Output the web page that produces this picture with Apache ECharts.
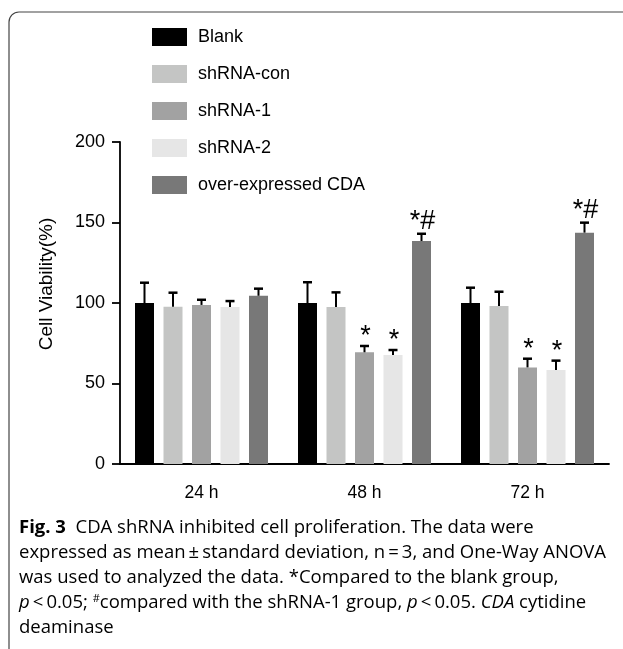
<!DOCTYPE html>
<html>
<head>
<meta charset="utf-8">
<script src="https://cdn.jsdelivr.net/npm/echarts@6/dist/echarts.min.js"></script>
<style>
html,body{margin:0;padding:0;background:#fff;}
#chart{width:623px;height:649px;}
</style>
</head>
<body>
<div id="chart"></div>
<script>
// ---- data ----
const categories = ['24 h', '48 h', '72 h'];
const seriesNames = ['Blank', 'shRNA-con', 'shRNA-1', 'shRNA-2', 'over-expressed CDA'];
const blankMean = [100, 100, 100];
const blankSD = [12.6, 12.9, 9.5];
const conMean = [97.7, 97.5, 98.1];
const conSD = [8.7, 9.1, 8.9];
const sh1Mean = [98.8, 69.4, 60.0];
const sh1SD = [3.2, 3.9, 5.4];
const sh2Mean = [97.5, 67.7, 58.4];
const sh2SD = [3.7, 3.1, 5.8];
const overMean = [104.5, 138.5, 143.7];
const overSD = [4.4, 4.5, 6.2];
const blankNote = ['', '', ''];
const conNote = ['', '', ''];
const sh1Note = ['', '*', '*'];
const sh2Note = ['', '*', '*'];
const overNote = ['', '*#', '*#'];
const yTicks = [0, 50, 100, 150, 200];

// ---- styles ----
const colors = ['#000000', '#c4c5c4', '#a2a2a2', '#e6e6e6', '#787878'];
const BAR_W = 19;
const BAR_GAP = 9.5;
const FONT = 'Liberation Sans';
const CAP_FONT = 'Open Sans';

const means = [blankMean, conMean, sh1Mean, sh2Mean, overMean];
const sds = [blankSD, conSD, sh1SD, sh2SD, overSD];
const notes = [blankNote, conNote, sh1Note, sh2Note, overNote];

const chart = echarts.init(document.getElementById('chart'), null, {renderer: 'canvas'});

const series = [];
seriesNames.forEach((name, k) => {
  series.push({
    name: name,
    type: 'bar',
    data: means[k],
    barWidth: BAR_W,
    barGap: (BAR_GAP / BAR_W * 100) + '%',
    itemStyle: {color: colors[k]},
    silent: true
  });
});
seriesNames.forEach((name, k) => {
  series.push({
    name: name + ' SD',
    type: 'custom',
    silent: true,
    z: 5,
    encode: {x: 0, y: [1, 2]},
    data: categories.map((c, i) => [i, means[k][i], means[k][i] + sds[k][i]]),
    renderItem: function (params, api) {
      const ci = api.value(0);
      const m = api.value(1);
      const t = api.value(2);
      const b = api.coord([ci, m]);
      const tp = api.coord([ci, t]);
      const x = b[0] + (k - 2) * (BAR_W + BAR_GAP);
      const note = notes[k][params.dataIndex];
      const children = [
        {type: 'line', shape: {x1: x, y1: b[1], x2: x, y2: tp[1]}, style: {stroke: '#000', lineWidth: 2}},
        {type: 'line', shape: {x1: x - 4.5, y1: tp[1], x2: x + 4.5, y2: tp[1]}, style: {stroke: '#000', lineWidth: 2.5}}
      ];
      if (note) {
        children.push({
          type: 'text',
          style: {
            text: note, x: x + 1, y: tp[1] + (note.length > 1 ? 1 : 4),
            align: 'center', verticalAlign: 'bottom',
            fontSize: 27, fontFamily: FONT, fill: '#000'
          }
        });
      }
      return {type: 'group', children: children};
    }
  });
});

const capLines = [
  {y: 531, text: '{b|Fig. 3}{n|  CDA shRNA inhibited cell proliferation. The data were}'},
  {y: 556, text: '{n|expressed as mean\u2009\u00b1\u2009standard deviation, n\u2009=\u20093, and One-Way ANOVA}'},
  {y: 581, text: '{n|was used to analyzed the data. *Compared to the blank group,}'},
  {y: 606, text: '{i|p}{n|\u2009<\u20090.05; }{s|#}{n|compared with the shRNA-1 group, }{i|p}{n|\u2009<\u20090.05. }{i|CDA}{n| cytidine}'},
  {y: 631, text: '{n|deaminase}'}
];
const CAP_SIZE = 18.5;
const capRich = {
  b: {fontFamily: CAP_FONT, fontSize: CAP_SIZE, fontWeight: 'bold', color: '#231f20'},
  n: {fontFamily: CAP_FONT, fontSize: CAP_SIZE, color: '#231f20'},
  i: {fontFamily: CAP_FONT, fontSize: CAP_SIZE, fontStyle: 'italic', color: '#231f20'},
  s: {fontFamily: CAP_FONT, fontSize: 11, color: '#231f20', verticalAlign: 'top', padding: [0, 0, 8, 0]}
};

const graphics = [
  {type: 'rect', shape: {x: 9, y: 12, width: 800, height: 800, r: 10}, style: {fill: 'none', stroke: '#444', lineWidth: 1.2}, silent: true, z: -1}
];
capLines.forEach(l => {
  graphics.push({
    type: 'text', left: 19, top: l.y - 13, silent: true,
    style: {text: l.text, rich: capRich}
  });
});

chart.setOption({
  animation: false,
  backgroundColor: '#fff',
  textStyle: {fontFamily: FONT},
  legend: {
    data: seriesNames,
    orient: 'vertical',
    left: 152, top: 28,
    padding: 0,
    icon: 'rect',
    itemWidth: 35, itemHeight: 18, itemGap: 19,
    textStyle: {fontSize: 18, color: '#000', fontFamily: FONT, padding: [0, 0, 0, 6]},
    selectedMode: false
  },
  grid: {left: 120, right: 14, top: 142, bottom: 185, containLabel: false},
  xAxis: {
    type: 'category',
    data: categories,
    axisLine: {lineStyle: {color: '#000', width: 1.8}},
    axisTick: {alignWithLabel: true, length: 10, lineStyle: {color: '#000', width: 1.8}},
    axisLabel: {color: '#000', fontSize: 17.5, margin: 20, fontFamily: FONT}
  },
  yAxis: {
    type: 'value',
    min: yTicks[0], max: yTicks[yTicks.length - 1], interval: yTicks[1] - yTicks[0],
    name: 'Cell Viability(%)',
    nameLocation: 'middle',
    nameGap: 64,
    nameRotate: 90,
    nameTextStyle: {fontSize: 19, color: '#000', fontFamily: FONT, padding: [0, 0, 0, 38]},
    axisLine: {show: true, lineStyle: {color: '#000', width: 1.8}},
    axisTick: {show: true, length: 8, lineStyle: {color: '#000', width: 1.8}},
    axisLabel: {color: '#000', fontSize: 18, margin: 15, fontFamily: FONT},
    splitLine: {show: false}
  },
  series: series,
  graphic: graphics
});
</script>
</body>
</html>
